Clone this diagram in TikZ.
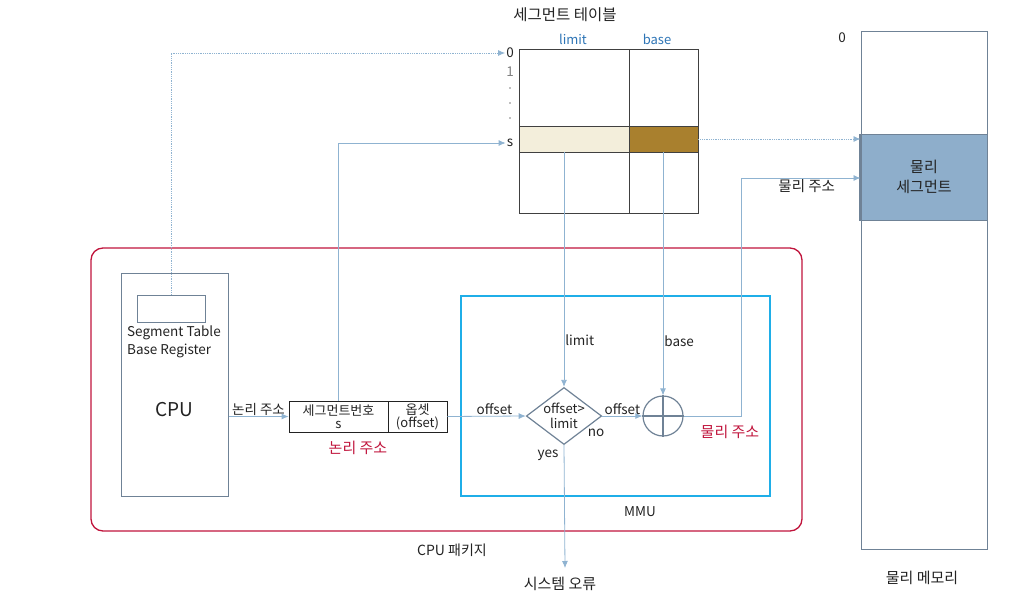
\documentclass[tikz,border=0pt]{standalone}
\usepackage{fontspec}
\setmainfont{Noto Sans CJK KR}
\usetikzlibrary{arrows.meta,shapes.geometric}
\definecolor{wire}{HTML}{8FB3D1}
\definecolor{pkgred}{HTML}{C0143C}
\definecolor{mmublue}{HTML}{1FAEE8}
\definecolor{boxgray}{HTML}{6F8296}
\definecolor{tblrule}{HTML}{404040}
\definecolor{limitbg}{HTML}{F3EEDB}
\definecolor{basebg}{HTML}{A9802E}
\definecolor{segbg}{HTML}{8EAECB}
\definecolor{colblue}{HTML}{2E75B6}
\definecolor{ink}{HTML}{222222}

\begin{document}
\begin{tikzpicture}[x=1pt,y=-1pt,
      font=\fontsize{13.5}{17}\selectfont,text=ink,
      wire/.style={draw=wire,line width=0.8pt},
      arr/.style={wire,-{Latex[length=7pt,width=6pt]}},
      dotarr/.style={arr,densely dotted},
      lbl/.style={inner sep=1pt,align=center},
      big/.style={font=\fontsize{15}{20}\selectfont},
      redlbl/.style={lbl,big,text=pkgred},
      cellbox/.style={draw=tblrule,line width=0.9pt,inner sep=0pt},
      frame/.style={draw=boxgray,line width=1pt,inner sep=0pt}]
    \useasboundingbox (0,0) rectangle (1026,605);
    % segment table
    \node[lbl,font=\fontsize{15.5}{18}\selectfont] (title) at (565,15) {세그먼트 테이블};
    \node[lbl,text=colblue,font=\fontsize{13}{15}\selectfont] (limhd) at (573,39) {limit};
    \node[lbl,text=colblue,font=\fontsize{13}{15}\selectfont] (basehd) at (657,39) {base};
    \node[cellbox,fill=limitbg,minimum width=110,minimum height=26] (slim) at (574,139) {};
    \node[cellbox,fill=basebg,minimum width=69,minimum height=26] (sbase) at (663.5,139) {};
    \draw[tblrule,line width=0.9pt] (519,49) rectangle (698,213) (629,49) -- (629,213);
    \node[lbl] (r0) at (510,53) {0};
    \node[lbl,text=gray] (r1) at (510,72) {1};
    \foreach \y in {88,103,118}
      \fill[gray] (510,\y) circle (0.8);
    \node[lbl] (rs) at (510,143) {s};
    % physical memory
    \node[frame,minimum width=126,minimum height=518] (mem) at (924,290) {};
    \node[frame,fill=segbg,minimum width=126,minimum height=86,align=center,big] (seg) at (924,177) {물리\\세그먼트};
    \draw[boxgray,line width=2.5pt] (seg.north west) -- (seg.south west);
    \node[lbl] (m0) at (842,38) {0};
    \node[lbl,big] (memlbl) at (922,578) {물리 메모리};
    % cpu package
    \node[draw=pkgred,line width=1.3pt,rounded corners=12,minimum width=711,minimum height=283] (pkg) at (446.5,389.5) {};
    \node[lbl,font=\fontsize{14}{17}\selectfont] (pkglbl) at (452,550) {CPU 패키지};
    \node[frame,minimum width=107,minimum height=223] (cpu) at (174.5,384.5) {};
    \node[frame,minimum width=68,minimum height=27] (reg) at (171,308.5) {};
    \node[lbl,align=left,anchor=west,font=\fontsize{13.5}{18}\selectfont] (reglbl) at (126,342) {Segment Table\\Base Register};
    \node[lbl,font=\fontsize{19}{21}\selectfont] (cpulbl) at (174,410) {CPU};
    % logical address
    \node[frame,draw=ink,line width=0.8pt,minimum width=99,minimum height=31,align=center,
          font=\fontsize{13}{13}\selectfont] (segno) at (338.5,416.5) {세그먼트번호\\s};
    \node[frame,draw=ink,line width=0.8pt,minimum width=59,minimum height=31,align=center,
          font=\fontsize{13}{13}\selectfont] (offs) at (417.5,416.5) {옵셋\\(offset)};
    \node[redlbl] (lalbl) at (358,448) {논리 주소};
    % mmu
    \node[draw=mmublue,line width=2pt,minimum width=309,minimum height=200] (mmu) at (615.5,396) {};
    \node[lbl] (mmulbl) at (640,512) {MMU};
    \node[draw=boxgray,line width=1.2pt,diamond,aspect=1.32,inner sep=0pt,minimum width=74,minimum height=56,
          align=center,font=\fontsize{13}{15}\selectfont] (cmp) at (564,416) {offset>\\limit};
    \node[draw=boxgray,line width=1.2pt,circle,minimum size=40,inner sep=0pt] (add) at (663,416) {};
    \draw[boxgray,line width=1.2pt] (add.north) -- (add.south) (add.west) -- (add.east);
    \node[redlbl] (palbl) at (730,432) {물리 주소};
    \node[lbl,big] (errlbl) at (560,584) {시스템 오류};
    \coordinate (errend) at (565,568);
    \coordinate (bend) at (741,178);
    % connectors
    \draw[dotarr] (reg.north) |- (r0.west);
    \draw[arr] (segno.north) |- (rs.west);
    \draw[arr] (cpu.east |- segno.west) -- node[lbl,above] {논리 주소} (segno.west);
    \draw[arr] (offs.east) -- node[lbl,above,pos=0.6] {offset} (cmp.west);
    \draw[arr] (slim.south -| cmp.north) -- node[lbl,right,pos=0.8] {limit} (cmp.north);
    \draw[arr] (sbase.south -| add.north) -- node[lbl,right,pos=0.775] {base} (add.north);
    \draw[arr] (cmp.east) -- node[lbl,above] {offset} (add.west);
    \node[lbl] (nolbl) at (596,433) {no};
    \node[lbl] (yeslbl) at (548,455) {yes};
    \draw[arr] (cmp.south) -- (errend);
    \draw[arr] (add.east) -| (bend) -- node[lbl,below,pos=0.55,font=\fontsize{14.5}{17}\selectfont] {물리 주소} (bend -| seg.west);
    \draw[dotarr] (sbase.east) -- (sbase.east -| seg.west);
  \end{tikzpicture}
\end{document}
